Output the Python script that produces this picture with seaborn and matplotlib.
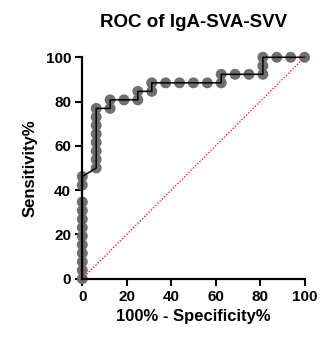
import matplotlib
matplotlib.use("Agg")
import matplotlib.pyplot as plt
import pandas as pd
import seaborn as sns

# ROC points (percent)
fpr = [0, 0, 0, 0, 0, 0, 0, 0, 0, 0, 0, 0,
       6.25, 6.25, 6.25, 6.25, 6.25, 6.25, 6.25, 6.25,
       12.5, 12.5, 18.75, 25, 25, 31.25, 31.25, 37.5, 43.75, 50, 56.25,
       62.5, 62.5, 68.75, 75, 81.25, 81.25, 81.25, 87.5, 93.75, 100]
tpr = [0, 3.85, 7.69, 11.54, 15.38, 19.23, 23.08, 26.92, 30.77, 34.62, 42.31, 46.15,
       50.0, 53.85, 57.69, 61.54, 65.38, 69.23, 73.08, 76.92,
       76.92, 80.77, 80.77, 80.77, 84.62, 84.62, 88.46, 88.46, 88.46, 88.46, 88.46,
       88.46, 92.31, 92.31, 92.31, 92.31, 96.15, 100, 100, 100, 100]
ref_line = [0, 100]
ticks = [0, 20, 40, 60, 80, 100]

df = pd.DataFrame({"fpr": fpr, "tpr": tpr})

sns.set_style("ticks")
plt.rcParams["font.family"] = ["Liberation Sans", "DejaVu Sans"]
plt.rcParams["font.weight"] = "bold"
plt.rcParams["text.color"] = "black"
plt.rcParams["axes.labelcolor"] = "black"
plt.rcParams["xtick.color"] = "black"
plt.rcParams["ytick.color"] = "black"
plt.rcParams["axes.edgecolor"] = "black"

fig = plt.figure(figsize=(3.24, 3.37), dpi=100)
ax = fig.add_axes([0.254, 0.173, 0.686, 0.657])

# markers below, step line above them
sns.scatterplot(data=df, x="fpr", y="tpr", ax=ax, s=62, color="#6f6f6f",
                edgecolor="none", linewidth=0, clip_on=False, zorder=2)
sns.lineplot(data=df, x="fpr", y="tpr", sort=False, estimator=None, ax=ax,
             color="black", lw=1.1, clip_on=False, zorder=3)
ax.plot(ref_line, ref_line, color="red", lw=0.9, ls=(0, (1, 1.5)),
        clip_on=False, zorder=4)
for ln in ax.lines:
    ln.set_clip_on(False)

ax.set_xlim(0, 100)
ax.set_ylim(0, 100)
ax.set_xticks(ticks)
ax.set_yticks(ticks)
ax.tick_params(width=1.5, length=5, labelsize=11, pad=3, colors="black")
for lab in ax.get_xticklabels() + ax.get_yticklabels():
    lab.set_fontweight("bold")
for s in ["left", "bottom"]:
    ax.spines[s].set_linewidth(1.6)
    ax.spines[s].set_zorder(5)
sns.despine(ax=ax)

ax.set_xlabel("100% - Specificity%", fontsize=12, fontweight="bold", labelpad=4)
ax.set_ylabel("Sensitivity%", fontsize=12, fontweight="bold", labelpad=6)
ax.set_title("ROC of IgA-SVA-SVV", fontsize=13.5, fontweight="bold", pad=22)

fig.savefig("out.png", dpi=100)
